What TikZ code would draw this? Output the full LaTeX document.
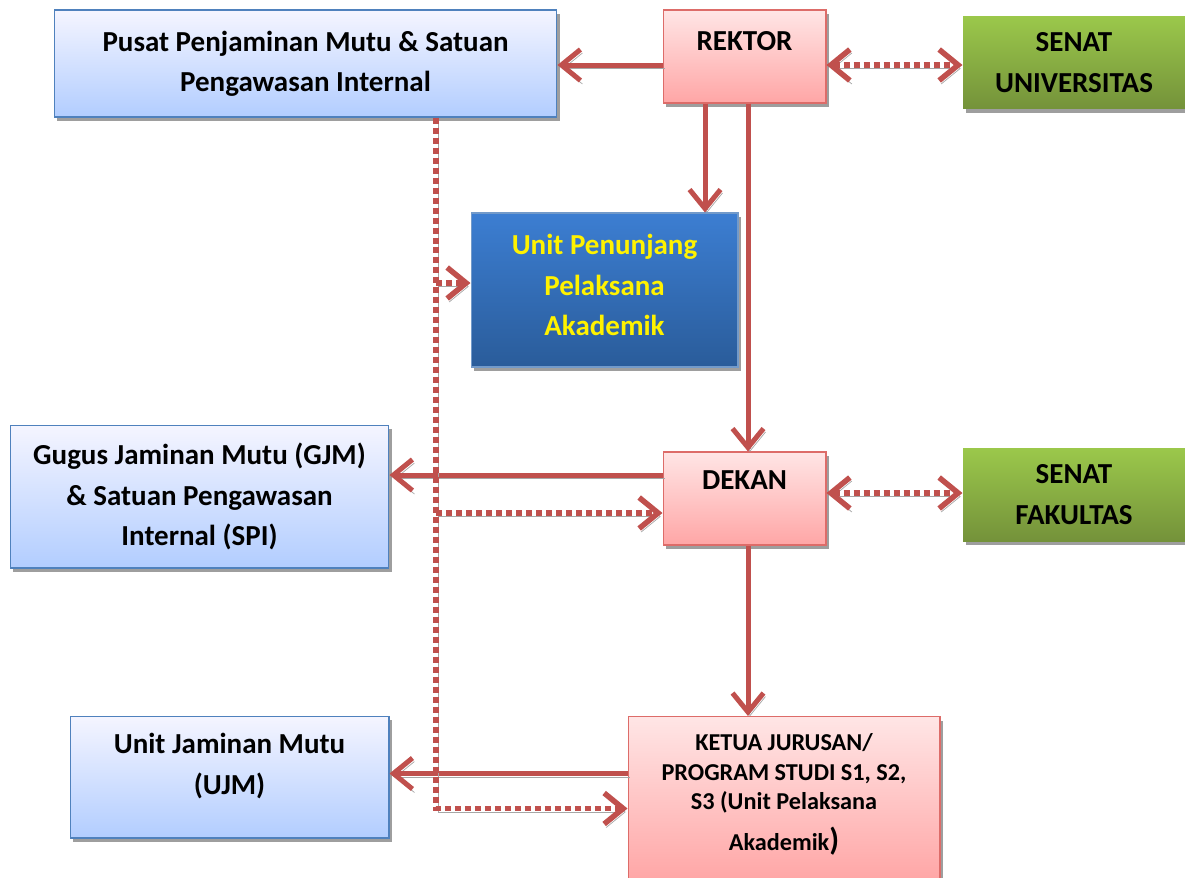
\documentclass[tikz,border=0pt]{standalone}
\usepackage{fontspec}
\setmainfont{Carlito}
\usetikzlibrary{arrows.meta,shadows}
\definecolor{linered}{HTML}{C0504D}
\definecolor{boxblue}{HTML}{4F81BD}
\definecolor{boxred}{HTML}{DD6C69}
\tikzset{box/.style={draw,line width=0.6pt,align=center,inner sep=2pt,font=\bfseries\fontsize{16.5}{23}\selectfont,
           drop shadow={shadow xshift=0.06cm,shadow yshift=-0.08cm,fill=black!38,opacity=1}},
         bluebox/.style={box,draw=boxblue,top color=blue!4!white,bottom color=blue!30!cyan!18!white!85!blue},
         redbox/.style={box,draw=boxred,top color=red!10!white,bottom color=red!35!white},
         greenbox/.style={box,draw=none,top color={rgb,255:red,155;green,200;blue,75},bottom color={rgb,255:red,116;green,146;blue,58}},
         darkbox/.style={box,draw=boxblue!80!white,text=yellow,top color={rgb,255:red,60;green,126;blue,210},bottom color={rgb,255:red,42;green,92;blue,154}},
         conn/.style={line width=0.1cm,draw=linered,-{Straight Barb[length=0.38cm,width=0.62cm]},
           preaction={draw=black!35,transform canvas={shift={(0.04cm,-0.07cm)}}}},
         dotconn/.style={conn,line width=0.11cm,dash pattern=on 0.12cm off 0.08cm},
         twoway/.style={dotconn,{Straight Barb[length=0.38cm,width=0.62cm]}-{Straight Barb[length=0.38cm,width=0.62cm]}}
}
\begin{document}
\begin{tikzpicture}[x=0.02cm,y=-0.02cm]
  \useasboundingbox (0,0) rectangle (1185,877);
  \node[bluebox,minimum width=10.06cm,minimum height=2.14cm] (ppm) at (305.5,63.5) {Pusat Penjaminan Mutu \& Satuan\\Pengawasan Internal};
  \node[redbox,minimum width=3.26cm,minimum height=1.86cm,text depth=0.62cm] (rektor) at (744.5,56.5) {REKTOR};
  \node[greenbox,minimum width=4.44cm,minimum height=1.86cm] (senatu) at (1074,62.5) {SENAT\\UNIVERSITAS};
  \node[darkbox,minimum width=5.34cm,minimum height=3.08cm,text depth=0.2cm] (upa) at (604.5,290) {Unit Penunjang\\Pelaksana\\Akademik};
  \node[bluebox,minimum width=7.58cm,minimum height=2.86cm] (gjm) at (199.5,496.5) {Gugus Jaminan Mutu (GJM)\\\& Satuan Pengawasan\\Internal (SPI)};
  \node[redbox,minimum width=3.26cm,minimum height=1.86cm,text depth=0.74cm] (dekan) at (744.5,498.5) {DEKAN};
  \node[greenbox,minimum width=4.44cm,minimum height=1.86cm] (senatf) at (1074,494.5) {SENAT\\FAKULTAS};
  \node[bluebox,minimum width=6.38cm,minimum height=2.44cm,text depth=0.52cm] (ujm) at (229.5,777) {Unit Jaminan Mutu\\(UJM)};
  \node[redbox,minimum width=6.24cm,minimum height=3.3cm,text depth=0.28cm,font=\bfseries\fontsize{13.8}{17}\selectfont] (ketua) at (784,799)
    {KETUA JURUSAN/\\PROGRAM STUDI S1, S2,\\S3 (Unit Pelaksana\\[0.22cm]Akademik{\fontsize{18}{18}\selectfont)}};
  \coordinate (tap) at ([xshift=2.61cm]ppm.south);

  % solid lines
  \draw[conn] ([yshift=-0.17cm]rektor.west) -- ([yshift=-0.17cm]rektor.west -| ppm.east);
  \draw[conn] ([xshift=-0.79cm]rektor.south) -- ([xshift=-0.79cm]rektor.south |- upa.north);
  \draw[conn] ([xshift=0.07cm]rektor.south) -- ([xshift=0.07cm]rektor.south |- dekan.north);
  \draw[conn] ([yshift=0.47cm]dekan.west) -- ([yshift=0.47cm]dekan.west -| gjm.east);
  \draw[conn] ([xshift=0.07cm]dekan.south) -- ([xshift=0.07cm]dekan.south |- ketua.north);
  \draw[conn] ([yshift=0.51cm]ketua.west) -- ([yshift=0.51cm]ketua.west -| ujm.east);

  % dotted lines
  \draw[twoway] ([yshift=-0.17cm]rektor.east) -- ([yshift=-0.17cm]rektor.east -| senatu.west);
  \draw[twoway] ([yshift=0.11cm]dekan.east) -- ([yshift=0.11cm]dekan.east -| senatf.west);
  \draw[dotconn] (tap) |- ([yshift=-0.19cm]ketua.west);
  \draw[dotconn] ([yshift=0.14cm]upa.west -| tap) -- ([yshift=0.14cm]upa.west);
  \draw[dotconn] ([yshift=-0.29cm]dekan.west -| tap) -- ([yshift=-0.29cm]dekan.west);
\end{tikzpicture}
\end{document}
